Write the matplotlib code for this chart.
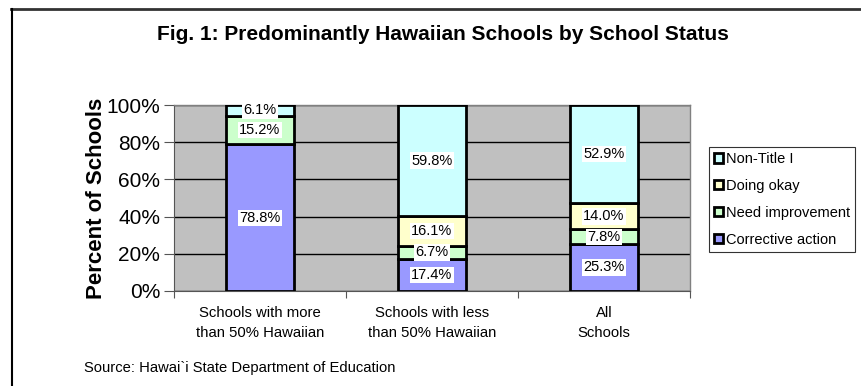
import matplotlib
matplotlib.use("Agg")
import matplotlib.pyplot as plt
from matplotlib.patches import Patch
from matplotlib.lines import Line2D
import numpy as np

plt.rcParams['font.family'] = ['Liberation Sans', 'DejaVu Sans']

categories = ["Schools with more\nthan 50% Hawaiian",
              "Schools with less\nthan 50% Hawaiian",
              "All\nSchools"]
series_names = ["Corrective action", "Need improvement", "Doing okay", "Non-Title I"]
corrective_action = [78.8, 17.4, 25.3]
need_improvement = [15.2, 6.7, 7.8]
doing_okay = [0.0, 16.1, 14.0]
non_title_i = [6.1, 59.8, 52.9]
y_ticks = [0, 20, 40, 60, 80, 100]

series = [corrective_action, need_improvement, doing_okay, non_title_i]
colors = ["#9999FF", "#CCFFCC", "#FFFFCC", "#CCFFFF"]

W, H = 861, 386
fig = plt.figure(figsize=(W / 100, H / 100), dpi=100)
ax = fig.add_axes([174 / W, 1 - 291 / H, (690 - 174) / W, (291 - 105) / H])
ax.set_facecolor("#C0C0C0")

x = np.arange(len(categories))
bottom = np.zeros(len(categories))
for vals, col in zip(series, colors):
    vals = np.array(vals)
    ax.bar(x, vals, bottom=bottom, width=0.4, color=col, edgecolor="black",
           linewidth=2, zorder=3)
    for xi, b, v in zip(x, bottom, vals):
        if v > 0:
            ax.text(xi, b + v / 2, f"{v:.1f}%", ha="center", va="center",
                    fontsize=10.5, zorder=5,
                    bbox=dict(facecolor="white", edgecolor="none", pad=0.8))
    bottom = bottom + vals

ax.set_xlim(-0.5, len(categories) - 0.5)
ax.set_ylim(0, 100)
ax.set_yticks(y_ticks)
ax.set_yticklabels([f"{t}%" for t in y_ticks], fontsize=15)
ax.yaxis.grid(True, color="black", linewidth=1, zorder=1)
ax.set_axisbelow(True)

# category labels centred under the bars, ticks between categories
ax.set_xticks(np.arange(len(categories) + 1) - 0.5)
ax.set_xticklabels([])
ax.tick_params(axis="x", length=5, color="#555555")
ax.tick_params(axis="y", length=7, color="#555555", pad=3)
line_offsets = [-11.8, -22.6]
for xi, lab in zip(x, categories):
    for off, part in zip(line_offsets, lab.split("\n")):
        ax.text(xi, off, part, ha="center", va="center", fontsize=10.7,
                transform=ax.transData)

for side in ["top", "right"]:
    ax.spines[side].set_color("#808080")
    ax.spines[side].set_linewidth(1)
ax.spines["left"].set_color("#555555")
ax.spines["bottom"].set_color("#555555")

fig.text(97 / W, 1 - 198 / H, "Percent of Schools", rotation=90,
         ha="center", va="center", fontsize=16, fontweight="bold")

fig.text(443 / W, 1 - 35 / H, "Fig. 1: Predominantly Hawaiian Schools by School Status",
         ha="center", va="center", fontsize=15, fontweight="bold")
fig.text(84 / W, 1 - 368 / H, "Source: Hawai`i State Department of Education",
         ha="left", va="center", fontsize=10.6)

# legend (reverse order, top = Non-Title I)
handles = [Patch(facecolor=c, edgecolor="black", linewidth=2) for c in colors][::-1]
labels = series_names[::-1]
leg = fig.legend(handles, labels, loc="upper left",
                 bbox_to_anchor=(709 / W, 1 - 147 / H),
                 fontsize=10.5, frameon=True, fancybox=False, edgecolor="black",
                 handlelength=0.6, handleheight=0.6, handletextpad=0.2,
                 labelspacing=0.88, borderpad=0.35, borderaxespad=0)
leg.get_frame().set_linewidth(0.8)

# chart frame lines
fig.add_artist(Line2D([11 / W, 1], [1 - 9 / H, 1 - 9 / H],
                      transform=fig.transFigure, color="#333333", linewidth=2))
fig.add_artist(Line2D([11.5 / W, 11.5 / W], [0, 1 - 9 / H],
                      transform=fig.transFigure, color="black", linewidth=1.5))

fig.savefig("out.png", dpi=100)
